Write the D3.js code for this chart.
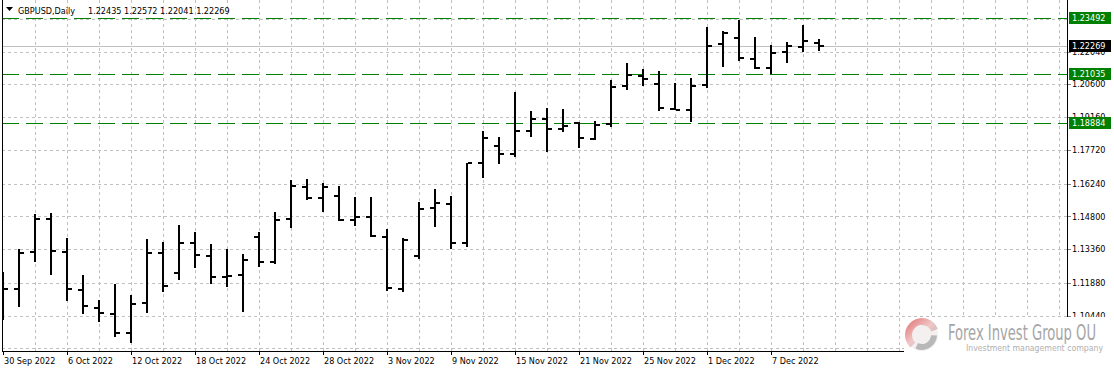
<!DOCTYPE html>
<html>
<head>
<meta charset="utf-8">
<script src="https://cdn.jsdelivr.net/npm/d3@7"></script>
<style>
  body { margin: 0; background: #fff; }
  svg text { font-family: "DejaVu Sans Condensed", "DejaVu Sans", sans-serif; font-size: 9px; }
</style>
</head>
<body>
<div id="chart"></div>
<script>
// GBPUSD daily bars, 30 Sep 2022 .. 12 Dec 2022
var dates = ["2022-09-30","2022-10-03","2022-10-04","2022-10-05","2022-10-06","2022-10-07",
  "2022-10-10","2022-10-11","2022-10-12","2022-10-13","2022-10-14","2022-10-17","2022-10-18",
  "2022-10-19","2022-10-20","2022-10-21","2022-10-24","2022-10-25","2022-10-26","2022-10-27",
  "2022-10-28","2022-10-31","2022-11-01","2022-11-02","2022-11-03","2022-11-04","2022-11-07",
  "2022-11-08","2022-11-09","2022-11-10","2022-11-11","2022-11-14","2022-11-15","2022-11-16",
  "2022-11-17","2022-11-18","2022-11-21","2022-11-22","2022-11-23","2022-11-24","2022-11-25",
  "2022-11-28","2022-11-29","2022-11-30","2022-12-01","2022-12-02","2022-12-05","2022-12-06",
  "2022-12-07","2022-12-08","2022-12-09","2022-12-12"];

var opens = [1.1113,1.1163,1.1325,1.1469,1.1325,1.1157,1.1079,1.1053,1.0970,1.1101,
  1.1321,1.1233,1.1362,1.1306,1.1215,1.1223,1.1391,1.1281,1.1469,1.1611,
  1.1560,1.1570,1.1464,1.1476,1.1388,1.1160,1.1308,1.1516,1.1533,1.1362,
  1.1713,1.1791,1.1754,1.1855,1.1908,1.1864,1.1889,1.1820,1.1886,1.2054,
  1.2098,1.2060,1.1952,1.1947,1.2057,1.2237,1.2265,1.2171,1.2133,1.2203,
  1.2225,1.22435];
var highs = [1.1237,1.1336,1.1491,1.1494,1.1384,1.1223,1.1113,1.1183,1.1135,1.1380,
  1.1369,1.1442,1.1413,1.1359,1.1337,1.1315,1.1413,1.1501,1.1640,1.1644,
  1.1625,1.1615,1.1564,1.1564,1.1423,1.1384,1.1542,1.1599,1.1570,1.1716,
  1.1855,1.1827,1.2025,1.1943,1.1955,1.1950,1.1893,1.1900,1.2079,1.2155,
  1.2127,1.2118,1.2067,1.2089,1.2313,1.2295,1.2342,1.2266,1.2233,1.2244,
  1.2320,1.22572];
var lows = [1.1025,1.1084,1.1281,1.1223,1.1110,1.1052,1.1018,1.0952,1.0926,1.1057,
  1.1150,1.1201,1.1255,1.1183,1.1172,1.1062,1.1257,1.1270,1.1431,1.1552,
  1.1501,1.1460,1.1438,1.1390,1.1153,1.1147,1.1293,1.1432,1.1336,1.1344,
  1.1647,1.1709,1.1740,1.1827,1.1762,1.1849,1.1779,1.1816,1.1871,1.2035,
  1.2054,1.1943,1.1946,1.1896,1.2042,1.2135,1.2162,1.2126,1.2104,1.2152,
  1.2203,1.22041];
var closes = [1.1163,1.1321,1.1469,1.1330,1.1163,1.1088,1.1057,1.0970,1.1097,1.1321,
  1.1175,1.1362,1.1311,1.1215,1.1218,1.1289,1.1281,1.1464,1.1615,1.1560,
  1.1611,1.1464,1.1479,1.1393,1.1164,1.1377,1.1511,1.1538,1.1362,1.1713,
  1.1826,1.1754,1.1855,1.1908,1.1864,1.1878,1.1826,1.1881,1.2050,1.2101,
  1.2083,1.1957,1.1947,1.2054,1.2230,1.2287,1.2177,1.2130,1.2199,1.2228,
  1.2251,1.22269];

// horizontal levels drawn on the chart
var levels = [1.23492, 1.21035, 1.18884];
// price grid, and the labels written on the scale
var gridPrices = [1.23480,1.22040,1.20600,1.19160,1.17720,1.16240,1.14800,1.13360,1.11880,1.10440,1.09000];
var priceTicks = [1.22040,1.20600,1.19160,1.17720,1.16240,1.14800,1.13360,1.11880,1.10440];
// date labels every 4 bars
var dateTickIdx = [0,4,8,12,16,20,24,28,32,36,40,44,48];

var W = 1114, H = 372;
var plot = {left: 2, right: 1067, top: 0, bottom: 351};

var bars = dates.map(function(d, i) {
    return {i: i, date: d3.timeParse("%Y-%m-%d")(d),
            o: opens[i], h: highs[i], l: lows[i], c: closes[i]};
});
var last = bars[bars.length - 1];

var x = d3.scaleLinear().domain([0, 1]).range([3, 19]);
var y = d3.scaleLinear().domain([1.1044, 1.2060]).range([315.7, 84.3]);
var fmtDate = d3.timeFormat("%-d %b %Y");

var svg = d3.select("#chart").append("svg")
    .attr("width", W)
    .attr("height", H);

svg.append("defs").append("clipPath")
    .attr("id", "plotclip")
  .append("rect")
    .attr("x", plot.left).attr("y", plot.top)
    .attr("width", plot.right - plot.left).attr("height", plot.bottom - plot.top);

// grid
var gridg = svg.append("g").attr("class", "grid");
gridg.selectAll("line.hg")
    .data(gridPrices)
  .enter().append("line")
    .attr("class", "hg")
    .attr("x1", plot.left).attr("x2", plot.right)
    .attr("y1", function(d) { return Math.round(y(d)) + 0.5; })
    .attr("y2", function(d) { return Math.round(y(d)) + 0.5; })
    .attr("stroke", "#c0c0c0")
    .attr("stroke-dasharray", "3,3");

gridg.selectAll("line.vg")
    .data(d3.range(2, 67, 2))
  .enter().append("line")
    .attr("class", "vg")
    .attr("x1", function(d) { return Math.round(x(d)) + 0.5; })
    .attr("x2", function(d) { return Math.round(x(d)) + 0.5; })
    .attr("y1", plot.top).attr("y2", plot.bottom)
    .attr("stroke", "#c0c0c0")
    .attr("stroke-dasharray", "3,3");

// bid line
svg.append("line")
    .attr("x1", plot.left).attr("x2", plot.right)
    .attr("y1", Math.round(y(last.c)) + 0.5).attr("y2", Math.round(y(last.c)) + 0.5)
    .attr("stroke", "#c0c0c0");

// level lines
svg.selectAll("line.level")
    .data(levels)
  .enter().append("line")
    .attr("class", "level")
    .attr("x1", plot.left).attr("x2", plot.right)
    .attr("y1", function(d) { return Math.round(y(d)) + 0.5; })
    .attr("y2", function(d) { return Math.round(y(d)) + 0.5; })
    .attr("stroke", "#008000")
    .attr("stroke-dasharray", "17,7");

// bars
var barg = svg.append("g").attr("clip-path", "url(#plotclip)");
var bar = barg.selectAll("g.bar")
    .data(bars)
  .enter().append("g")
    .attr("class", "bar");

bar.append("rect")
    .attr("x", function(d) { return x(d.i) - 1; })
    .attr("y", function(d) { return Math.round(y(d.h)); })
    .attr("width", 2)
    .attr("height", function(d) { return Math.max(2, Math.round(y(d.l)) - Math.round(y(d.h))); })
    .attr("fill", "#000");
bar.append("rect")
    .attr("x", function(d) { return x(d.i) - 5; })
    .attr("y", function(d) { return Math.round(y(d.o)) - 1; })
    .attr("width", 4).attr("height", 2)
    .attr("fill", "#000");
bar.append("rect")
    .attr("x", function(d) { return x(d.i) + 1; })
    .attr("y", function(d) { return Math.round(y(d.c)) - 1; })
    .attr("width", 4).attr("height", 2)
    .attr("fill", "#000");

// frame
svg.append("line")
    .attr("x1", plot.left + 0.5).attr("x2", plot.left + 0.5)
    .attr("y1", plot.top).attr("y2", plot.bottom)
    .attr("stroke", "#000");
svg.append("line")
    .attr("x1", plot.right + 0.5).attr("x2", plot.right + 0.5)
    .attr("y1", plot.top).attr("y2", plot.bottom)
    .attr("stroke", "#000");
svg.append("line")
    .attr("x1", plot.left).attr("x2", plot.right + 1)
    .attr("y1", plot.bottom + 0.5).attr("y2", plot.bottom + 0.5)
    .attr("stroke", "#000");

// price axis
var pa = svg.append("g").attr("class", "price-axis");
pa.selectAll("line")
    .data(priceTicks)
  .enter().append("line")
    .attr("x1", plot.right + 1).attr("x2", plot.right + 4)
    .attr("y1", function(d) { return Math.round(y(d)) + 0.5; })
    .attr("y2", function(d) { return Math.round(y(d)) + 0.5; })
    .attr("stroke", "#808080");
pa.selectAll("text")
    .data(priceTicks)
  .enter().append("text")
    .attr("x", plot.right + 5)
    .attr("y", function(d) { return y(d); })
    .attr("dy", "0.35em")
    .attr("fill", "#000")
    .text(function(d) { return d.toFixed(5); });

// level labels + bid label
var tags = levels.map(function(v) { return {v: v, bg: "#008000"}; });
tags.push({v: last.c, bg: "#000"});
var tag = svg.selectAll("g.tag")
    .data(tags)
  .enter().append("g")
    .attr("class", "tag")
    .attr("transform", function(d) { return "translate(" + (plot.right + 2) + "," + Math.round(y(d.v)) + ")"; });
tag.append("rect")
    .attr("x", 0).attr("y", -6)
    .attr("width", 42).attr("height", 12)
    .attr("fill", function(d) { return d.bg; });
tag.append("text")
    .attr("x", 3).attr("y", 0)
    .attr("dy", "0.35em")
    .attr("fill", "#fff")
    .text(function(d) { return d.v.toFixed(5); });

// date axis
var da = svg.append("g").attr("class", "date-axis");
da.selectAll("line")
    .data(dateTickIdx)
  .enter().append("line")
    .attr("x1", function(d) { return Math.round(x(d)) + 0.5; })
    .attr("x2", function(d) { return Math.round(x(d)) + 0.5; })
    .attr("y1", plot.bottom).attr("y2", plot.bottom + 4)
    .attr("stroke", "#000");
da.selectAll("text")
    .data(dateTickIdx)
  .enter().append("text")
    .attr("x", function(d) { return x(d) + 1; })
    .attr("y", 364)
    .attr("fill", "#000")
    .text(function(d) { return fmtDate(bars[d].date); });

// title
svg.append("path")
    .attr("d", "M6,7 L13,7 L9.5,11 Z")
    .attr("fill", "#000");
svg.append("text")
    .attr("x", 18).attr("y", 14)
    .attr("fill", "#000")
    .text("GBPUSD,Daily");
svg.append("text")
    .attr("x", 88).attr("y", 14)
    .attr("fill", "#000")
    .text([last.o, last.h, last.l, last.c].map(function(v) { return v.toFixed(5); }).join(" "));

// watermark logo
var logo = svg.append("g").attr("class", "logo");
logo.append("rect")
    .attr("x", 904).attr("y", 317)
    .attr("width", W - 904).attr("height", H - 317)
    .attr("fill", "#fff");
var grad = svg.select("defs").append("linearGradient")
    .attr("id", "lg").attr("x1", "0").attr("y1", "0").attr("x2", "1").attr("y2", "1");
grad.append("stop").attr("offset", "0%").attr("stop-color", "#e06a6a");
grad.append("stop").attr("offset", "50%").attr("stop-color", "#f0c8c8");
grad.append("stop").attr("offset", "100%").attr("stop-color", "#a8a8a8");
var arc = d3.arc();
logo.append("circle")
    .attr("cx", 922).attr("cy", 335).attr("r", 16)
    .attr("fill", "#f4f0f0");
logo.append("path")
    .attr("transform", "translate(922,335)")
    .attr("d", arc({innerRadius: 10, outerRadius: 17, startAngle: -2.4, endAngle: 1.2}))
    .attr("fill", "url(#lg)");
logo.append("path")
    .attr("transform", "translate(922,335)")
    .attr("d", arc({innerRadius: 9, outerRadius: 15, startAngle: 1.6, endAngle: 3.6}))
    .attr("fill", "#b8b8b8");
logo.append("text")
    .attr("x", 948).attr("y", 340)
    .attr("textLength", 148).attr("lengthAdjust", "spacingAndGlyphs")
    .style("font-family", "'Liberation Sans Narrow', 'DejaVu Sans Condensed', sans-serif")
    .style("font-size", "22px")
    .attr("fill", "#a6a6a6")
    .text("Forex Invest Group OU");
logo.append("text")
    .attr("x", 966).attr("y", 351)
    .attr("textLength", 137).attr("lengthAdjust", "spacingAndGlyphs")
    .style("font-size", "9px")
    .attr("fill", "#b0b0b0")
    .text("Investment management company");
</script>
</body>
</html>
